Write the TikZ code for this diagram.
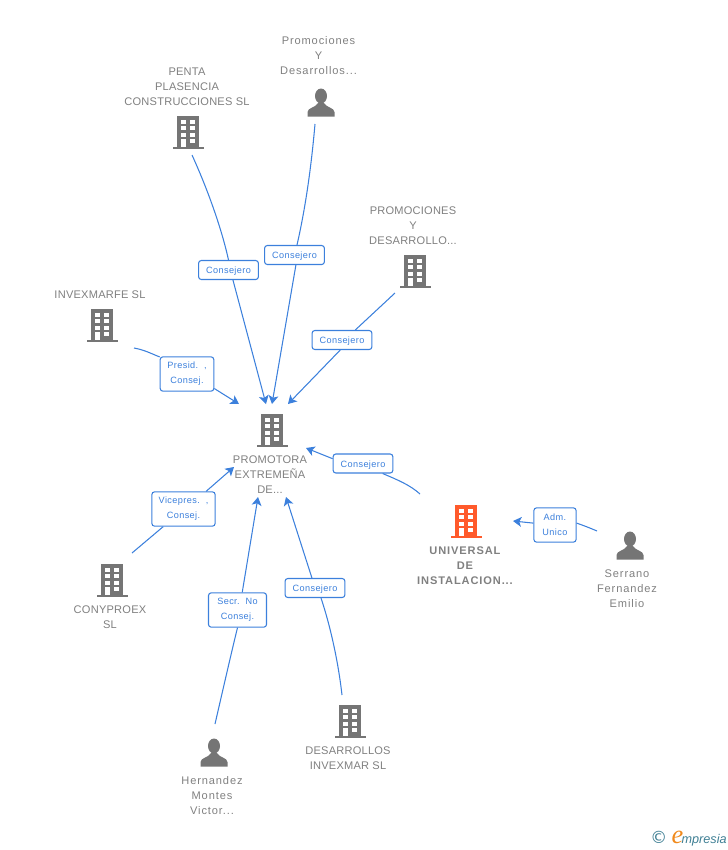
\documentclass[tikz,border=0pt]{standalone}
\usepackage{fontspec}
\setmainfont{Liberation Sans}
\newfontfamily\capsfont[LetterSpace=2]{Liberation Sans}
\newfontfamily\namefont[LetterSpace=8]{Liberation Sans}
\newfontfamily\unifont[LetterSpace=8]{Liberation Sans}
\newfontfamily\rolefont[LetterSpace=4.5]{Liberation Sans}
\usepackage{tikz}
\usetikzlibrary{arrows.meta}
\definecolor{icongray}{HTML}{757575}
\definecolor{captgray}{HTML}{808080}
\definecolor{linkblue}{HTML}{3C80DC}
\definecolor{mainorange}{HTML}{FF5A2B}
\definecolor{brandteal}{HTML}{3F7F94}
\definecolor{brandorange}{HTML}{F08A1D}
\tikzset{
  capt/.style={shape=rectangle,align=center,text=captgray,inner sep=0pt,font=\capsfont\fontsize{6.3}{8.55}\selectfont},
  captname/.style={capt,font=\namefont\fontsize{6.3}{8.55}\selectfont},
  captmain/.style={capt,font=\unifont\bfseries\fontsize{6.3}{8.55}\selectfont},
  role/.style={shape=rectangle,draw=linkblue,fill=white,rounded corners=1.5pt,line width=0.6pt,align=center,text=linkblue,inner sep=0pt,font=\rolefont\fontsize{5.2}{8.55}\selectfont,execute at begin node={\rule{0pt}{5.2pt}}},
  roleone/.style={role,minimum width=34pt,minimum height=10.8pt},
  roletwo/.style={role,minimum height=19.5pt},
  link/.style={draw=linkblue,line width=0.6pt},
  linkto/.style={link,-{Stealth[length=4.8pt,width=5.6pt,inset=1.2pt]}},
  pics/bldg/.default=icongray,
  bldg/.pic={
    \fill[#1] (-11,-16.5) rectangle (11,15);
    \fill[#1] (-15.5,14.5) rectangle (15.5,16.5);
    \foreach \wy in {-12.5,-6,0.5} {
      \fill[white] (-7,\wy) rectangle (-2,\wy+4);
      \fill[white] (2,\wy) rectangle (7,\wy+4);
    }
    \fill[white] (-7,7) rectangle (-2,14.5);
    \fill[white] (2,7) rectangle (7,11);
  },
  persona/.pic={
    \fill[icongray] (0,-7) ellipse (6 and 7.5);
    \fill[icongray] (-13.5,13.5) -- (-13.5,9) .. controls (-13,4.5) and (-6,5) .. (-3,0) -- (3,0) .. controls (6,5) and (13,4.5) .. (13.5,9) -- (13.5,13.5) -- cycle;
  }
}
\begin{document}
\begin{tikzpicture}[x=0.02cm,y=-0.02cm]
  \useasboundingbox (0,0) rectangle (728,850);
  % icons
  \pic at (188,132) {bldg};
  \pic at (321,103) {persona};
  \pic at (415,271) {bldg};
  \pic at (102,325) {bldg};
  \pic at (272,430) {bldg};
  \pic at (466,521) {bldg=mainorange};
  \pic at (630,546) {persona};
  \pic at (112,580) {bldg};
  \pic at (350,721) {bldg};
  \pic at (214,753) {persona};
  % captions
  \node [capt] (penta) at (187,86.7) {PENTA\\PLASENCIA\\CONSTRUCCIONES SL};
  \node [captname] (promoper) at (318.5,55.2) {Promociones\\Y\\Desarrollos...};
  \node [capt] (promosoc) at (413,225.5) {PROMOCIONES\\Y\\DESARROLLO...};
  \node [capt] (invexmarfe) at (100,294.7) {INVEXMARFE SL};
  \node [capt] (promotora) at (270,474.7) {PROMOTORA\\EXTREMEÑA\\DE...};
  \node [captmain] (universal) at (465,565.7) {UNIVERSAL\\DE\\INSTALACION...};
  \node [captname] (serrano) at (627,588.7) {Serrano\\Fernandez\\Emilio};
  \node [capt] (conyproex) at (110,616.7) {CONYPROEX\\SL};
  \node [capt] (desarrollos) at (348,757.7) {DESARROLLOS\\INVEXMAR SL};
  \node [captname] (hernandez) at (212,795.7) {Hernandez\\Montes\\Victor...};
  % roles
  \node [roleone] (rpenta) at (228.5,270) {Consejero};
  \node [roleone] (rpromoper) at (294.5,255) {Consejero};
  \node [roleone] (rpromosoc) at (342,340) {Consejero};
  \node [roletwo,minimum width=30.5pt] (rinvex) at (187,374) {Presid.\ \ ,\\Consej.};
  \node [roleone] (runiv) at (363,463.5) {Consejero};
  \node [roletwo,minimum width=36pt] (rcony) at (183.5,509) {Vicepres.\ \ ,\\Consej.};
  \node [roletwo,minimum width=33pt] (rhern) at (237.5,610) {Secr.\ \ No\\Consej.};
  \node [roleone] (rdesa) at (315,588) {Consejero};
  \node [roletwo,minimum width=24pt] (rserr) at (555,525) {Adm.\\Unico};
  % free ends
  \coordinate (pentaout) at (192,155);
  \coordinate (promoperout) at (315,124);
  \coordinate (promosocout) at (395,293);
  \coordinate (invexout) at (134,348);
  \coordinate (univout) at (420,494);
  \coordinate (conyout) at (132,553);
  \coordinate (hernout) at (215,724);
  \coordinate (desaout) at (342,695);
  \coordinate (serrout) at (597,531);
  \coordinate (inpenta) at (266,404);
  \coordinate (inpromoper) at (272,404);
  \coordinate (inpromosoc) at (288,404);
  \coordinate (ininvex) at (239,404);
  \coordinate (inuniv) at (306,448);
  \coordinate (incony) at (234,467);
  \coordinate (inhern) at (258,497);
  \coordinate (indesa) at (286,497);
  \coordinate (inadm) at (513,521);
  % connectors
  \draw [link] (pentaout) .. controls (208,190) and (222,230) .. (rpenta.90);
  \draw [linkto] (rpenta.294) -- (inpenta);
  \draw [link] (promoperout) .. controls (311,170) and (305,210) .. (rpromoper.76);
  \draw [linkto] (rpromoper.278) -- (inpromoper);
  \draw [link] (promosocout) -- (rpromosoc.37);
  \draw [linkto] (rpromosoc.260) -- (inpromosoc);
  \draw [link] (invexout) .. controls (145,350) and (152,354) .. (rinvex.148);
  \draw [linkto] (rinvex.332) -- (ininvex);
  \draw [link] (univout) .. controls (410,485) and (398,480) .. (runiv.333);
  \draw [linkto] (runiv.171) -- (inuniv);
  \draw [link] (conyout) -- (rcony.221);
  \draw [linkto] (rcony.38) -- (incony);
  \draw [link] (hernout) .. controls (224,685) and (232,650) .. (rhern.270);
  \draw [linkto] (rhern.75) -- (inhern);
  \draw [link] (desaout) .. controls (338,660) and (330,625) .. (rdesa.301);
  \draw [linkto] (rdesa.107) -- (indesa);
  \draw [link] (serrout) .. controls (590,528) and (585,526) .. (rserr.5);
  \draw [linkto] (rserr.175) -- (inadm);
  % brand mark
  \node [shape=rectangle,inner sep=0pt,anchor=east,text=brandteal,font=\fontsize{7.2}{8}\selectfont\itshape] (brand) at (727,839) {{\fontspec{DejaVu Sans}\upshape\fontsize{9.6}{8}\selectfont ©}\kern2.5pt{\fontspec{Liberation Serif}\itshape\color{brandorange}\fontsize{15}{8}\selectfont e}\kern-1pt mpresia};
\end{tikzpicture}
\end{document}
